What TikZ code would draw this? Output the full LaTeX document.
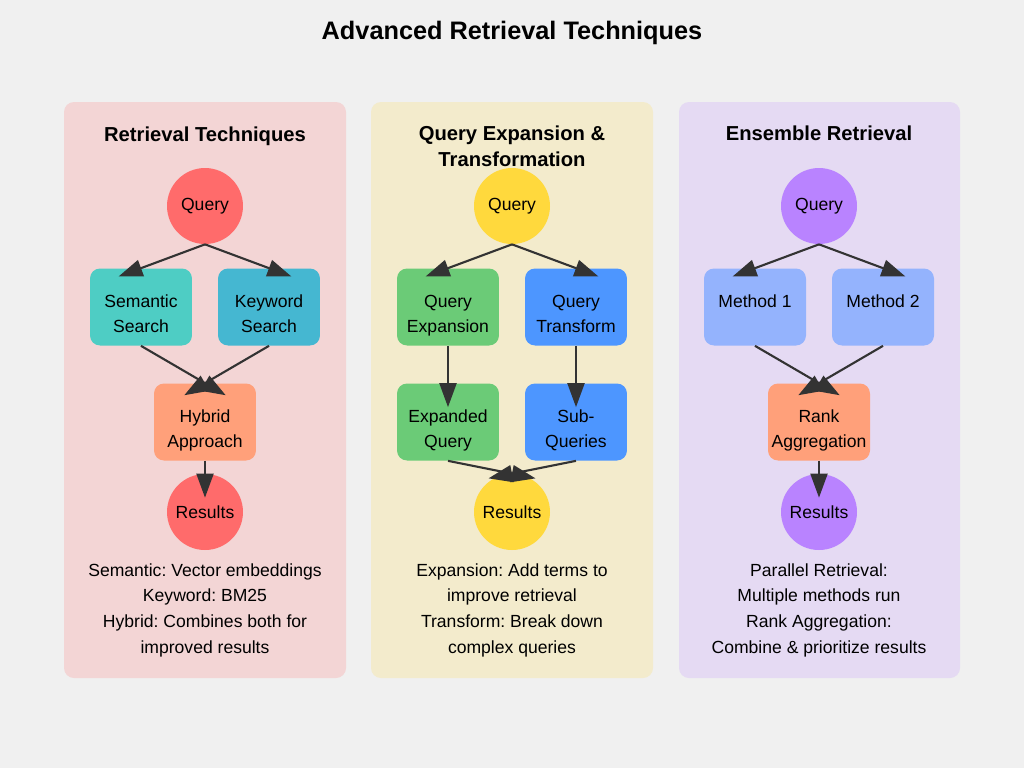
\documentclass[tikz,border=0pt]{standalone}
\usepackage{fontspec}
\setmainfont{Liberation Sans}
\frenchspacing
\usetikzlibrary{arrows.meta}

\definecolor{canvas}{HTML}{F0F0F0}
\definecolor{linkgray}{HTML}{333333}
\definecolor{redbg}{HTML}{F3D5D5}
\definecolor{yellowbg}{HTML}{F3EBCC}
\definecolor{purplebg}{HTML}{E5DAF3}
\definecolor{coral}{HTML}{FF6B6B}
\definecolor{teal}{HTML}{4ECDC4}
\definecolor{sky}{HTML}{45B7D1}
\definecolor{salmon}{HTML}{FFA07A}
\definecolor{sun}{HTML}{FFD93D}
\definecolor{leaf}{HTML}{6BCB77}
\definecolor{ocean}{HTML}{4D96FF}
\definecolor{lilac}{HTML}{B983FF}
\definecolor{periwinkle}{HTML}{94B3FD}

\begin{document}
\begin{tikzpicture}[x=0.02cm,y=-0.02cm]

  \fill[canvas] (0,0) rectangle (1024,768);
  \useasboundingbox (0,0) rectangle (1024,768);

  % node styles
  \tikzstyle{Panel}=[rounded corners=0.2cm]
  \tikzstyle{Box}=[
  shape=rectangle,rounded corners=0.2cm,
  minimum width=2.04cm,minimum height=1.54cm,
  inner sep=0.5mm,align=center,
  text height=30pt,text depth=1.3pt,
  font=\fontsize{10}{14.2}\selectfont]
  \tikzstyle{Ball}=[shape=circle,minimum size=1.52cm,inner sep=0mm,
  font=\fontsize{10}{12}\selectfont]
  \tikzstyle{Head}=[font=\bfseries\fontsize{11.5}{14.7}\selectfont,align=center]
  \tikzstyle{Note}=[font=\fontsize{10}{14.6}\selectfont,align=center]
  \tikzstyle{Link}=[draw=linkgray,line width=1.2pt,
  -{Triangle[length=0.48cm,width=0.34cm]},shorten >=-0.48cm]

  \node[font=\bfseries\fontsize{14.4}{17}\selectfont] (T) at (512,33)
    {Advanced Retrieval Techniques};

  % panels
  \fill[Panel,fill=redbg]    (64,102)  rectangle (346,678);
  \fill[Panel,fill=yellowbg] (371,102) rectangle (653,678);
  \fill[Panel,fill=purplebg] (679,102) rectangle (960,678);

  % left: retrieval techniques
  \node[Head] (H1) at (205,136) {Retrieval Techniques};
  \node[Ball,fill=coral] (Q1) at (205,206) {Query};
  \node[Box,fill=teal]   (S1) at (141,307) {Semantic\\Search};
  \node[Box,fill=sky]    (K1) at (269,307) {Keyword\\Search};
  \node[Box,fill=salmon] (Y1) at (205,422) {Hybrid\\Approach};
  \node[Ball,fill=coral] (R1) at (205,512) {Results};
  \node[Note] (N1) at (205,610) {Semantic: Vector embeddings\\Keyword: BM25\\
    Hybrid: Combines both for\\improved results};

  \draw[Link] (Q1.south) -- (S1.north);
  \draw[Link] (Q1.south) -- (K1.north);
  \draw[Link] (S1.south) -- (Y1.north);
  \draw[Link] (K1.south) -- (Y1.north);
  \draw[Link] (Y1.south) -- (R1.north);

  % middle: query expansion
  \node[Head] (H2) at (512,146) {Query Expansion \&\\Transformation};
  \node[Ball,fill=sun]  (Q2) at (512,206) {Query};
  \node[Box,fill=leaf]  (E2) at (448,307) {Query\\Expansion};
  \node[Box,fill=ocean] (F2) at (576,307) {Query\\Transform};
  \node[Box,fill=leaf]  (D2) at (448,422) {Expanded\\Query};
  \node[Box,fill=ocean] (U2) at (576,422) {Sub-\\Queries};
  \node[Ball,fill=sun]  (R2) at (512,512) {Results};
  \node[Note] (N2) at (512,610) {Expansion: Add terms to\\improve retrieval\\
    Transform: Break down\\complex queries};

  \draw[Link] (Q2.south) -- (E2.north);
  \draw[Link] (Q2.south) -- (F2.north);
  \draw[Link] (E2.south) -- (D2.north);
  \draw[Link] (F2.south) -- (U2.north);
  \draw[Link] (D2.south) -- (R2.north);
  \draw[Link] (U2.south) -- (R2.north);

  % right: ensemble retrieval
  \node[Head] (H3) at (819,133) {Ensemble Retrieval};
  \node[Ball,fill=lilac] (Q3) at (819,206) {Query};
  \node[Box,fill=periwinkle,text height=0.3cm,text depth=0.3cm] (M3) at (755,307) {Method 1};
  \node[Box,fill=periwinkle,text height=0.3cm,text depth=0.3cm] (W3) at (883,307) {Method 2};
  \node[Box,fill=salmon] (A3) at (819,422) {Rank\\Aggregation};
  \node[Ball,fill=lilac] (R3) at (819,512) {Results};
  \node[Note] (N3) at (819,610) {Parallel Retrieval:\\Multiple methods run\\
    Rank Aggregation:\\Combine \& prioritize results};

  \draw[Link] (Q3.south) -- (M3.north);
  \draw[Link] (Q3.south) -- (W3.north);
  \draw[Link] (M3.south) -- (A3.north);
  \draw[Link] (W3.south) -- (A3.north);
  \draw[Link] (A3.south) -- (R3.north);

\end{tikzpicture}
\end{document}
